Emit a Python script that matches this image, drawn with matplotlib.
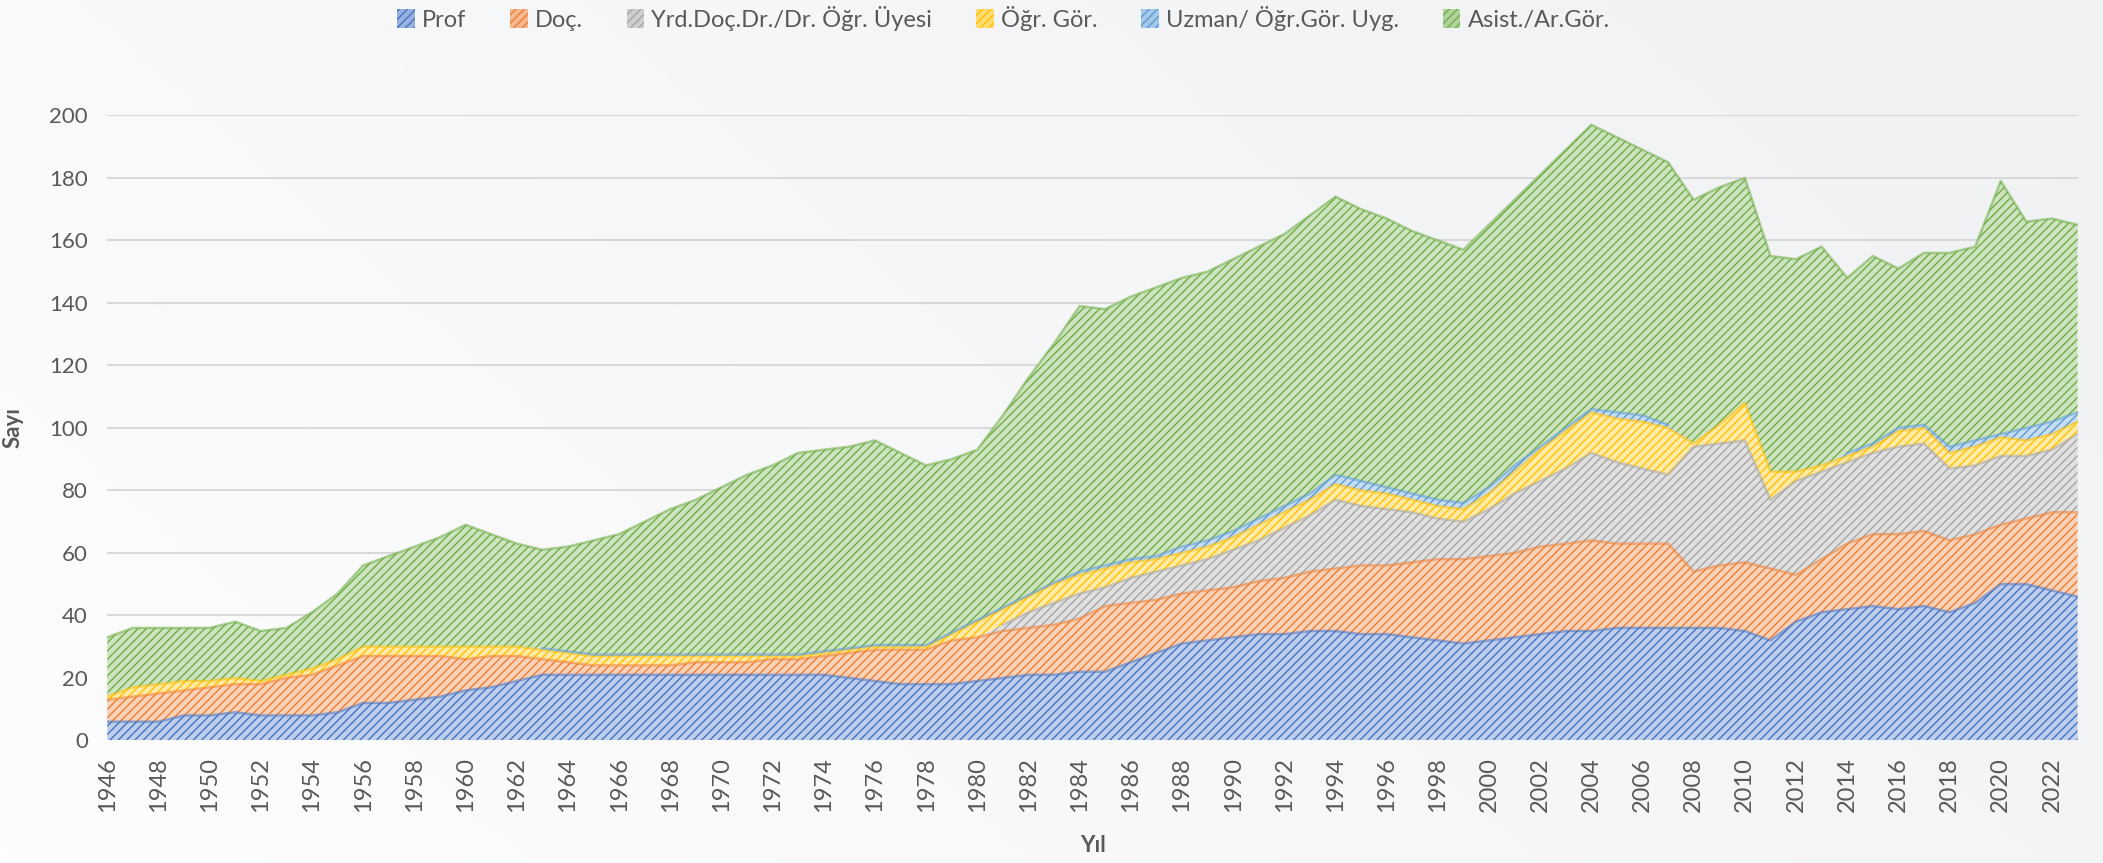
import numpy as np
import matplotlib
matplotlib.use("Agg")
import matplotlib.pyplot as plt
import matplotlib.colors as mcolors
from matplotlib.patches import Patch

# ---------------- data ----------------
years = list(range(1946, 2024))

prof = [6, 6, 6, 8, 8, 9, 8, 8, 8, 9,
        12, 12, 13, 14, 16, 17, 19, 21, 21, 21,
        21, 21, 21, 21, 21, 21, 21, 21, 21, 20,
        19, 18, 18, 18, 19, 20, 21, 21, 22, 22,
        25, 28, 31, 32, 33, 34, 34, 35, 35, 34,
        34, 33, 32, 31, 32, 33, 34, 35, 35, 36,
        36, 36, 36, 36, 35, 32, 38, 41, 42, 43,
        42, 43, 41, 44, 50, 50, 48, 46]

doc = [7, 8, 9, 8, 9, 9, 10, 12, 13, 15,
       15, 15, 14, 13, 10, 10, 8, 5, 4, 3,
       3, 3, 3, 4, 4, 4, 5, 5, 6, 8,
       10, 11, 11, 14, 14, 15, 15, 16, 17, 21,
       19, 17, 16, 16, 16, 17, 18, 19, 20, 22,
       22, 24, 26, 27, 27, 27, 28, 28, 29, 27,
       27, 27, 18, 20, 22, 23, 15, 17, 21, 23,
       24, 24, 23, 22, 19, 21, 25, 27]

yrd = [0, 0, 0, 0, 0, 0, 0, 0, 0, 0,
       0, 0, 0, 0, 0, 0, 0, 0, 0, 0,
       0, 0, 0, 0, 0, 0, 0, 0, 0, 0,
       0, 0, 0, 0, 0, 2, 5, 7, 8, 6,
       8, 9, 9, 10, 12, 13, 16, 18, 22, 19,
       18, 16, 13, 12, 15, 19, 21, 24, 28, 26,
       24, 22, 40, 39, 39, 22, 30, 28, 26, 26,
       28, 28, 23, 22, 22, 20, 20, 25]

ogr = [1, 3, 3, 3, 2, 2, 1, 1, 2, 2,
       3, 3, 3, 3, 4, 3, 3, 3, 3, 3,
       3, 3, 3, 2, 2, 2, 1, 1, 1, 1,
       1, 1, 1, 2, 5, 5, 5, 6, 6, 6,
       5, 4, 4, 4, 4, 5, 5, 5, 5, 5,
       5, 4, 4, 4, 5, 7, 10, 12, 13, 14,
       15, 15, 1, 6, 12, 9, 3, 2, 2, 2,
       5, 5, 5, 6, 6, 5, 5, 4]

uzman = [0, 0, 0, 0, 0, 0, 0, 0, 0, 0,
         0, 0, 0, 0, 0, 0, 0, 0.5, 0.5, 0.5,
         0.5, 0.5, 0.5, 0.5, 0.5, 0.5, 0.5, 0.5, 0.5, 0.5,
         0.5, 0.5, 0.5, 0.5, 0.5, 0.5, 0.5, 0.5, 1, 1,
         1, 1, 2, 2, 2, 2, 2, 2, 3, 3,
         2, 2, 2, 2, 2, 2, 1, 1, 1, 2,
         2, 1, 0, 0, 0, 0, 0, 0, 1, 1,
         1, 1, 2, 2, 1, 4, 4, 3]

asist = [19, 19, 18, 17, 17, 18, 16, 15, 18, 21,
         26, 29, 32, 35, 39, 36, 33, 31.5, 33.5, 36.5,
         38.5, 42.5, 46.5, 49.5, 53.5, 57.5, 60.5, 64.5, 64.5, 64.5,
         65.5, 61.5, 57.5, 55.5, 54.5, 61.5, 69.5, 76.5, 85, 82,
         84, 86, 86, 86, 87, 87, 87, 89, 89, 87,
         86, 84, 83, 81, 84, 85, 87, 89, 91, 88,
         85, 84, 78, 76, 72, 69, 68, 70, 56, 60,
         51, 55, 62, 62, 81, 66, 65, 60]

labels = ["Prof", "Doç.", "Yrd.Doç.Dr./Dr. Öğr. Üyesi", "Öğr. Gör.",
          "Uzman/ Öğr.Gör. Uyg.", "Asist./Ar.Gör."]
colors = ["#4472C4", "#ED7D31", "#A5A5A5", "#FFC000", "#5B9BD5", "#70AD47"]
tick_years = list(range(1946, 2023, 2))
y_ticks = list(range(0, 201, 20))

# ---------------- style ----------------
plt.rcParams['font.family'] = ['Lato', 'DejaVu Sans']
plt.rcParams['hatch.linewidth'] = 1.0
text_col = "#595959"


def tint(c, f):
    r, g, b = mcolors.to_rgb(c)
    return (r + (1 - r) * f, g + (1 - g) * f, b + (1 - b) * f)


W, H = 2103, 863
fig = plt.figure(figsize=(W / 100, H / 100), dpi=100)

# subtle background gradient
bg = fig.add_axes([0, 0, 1, 1], zorder=-10)
gx = np.linspace(0, 1, 400)
gy = np.linspace(0, 1, 200)
GX, GY = np.meshgrid(gx, gy)
grad = 0.55 * GX + 0.25 * (1 - GY)
bg_cmap = mcolors.LinearSegmentedColormap.from_list("bg", ["#fdfdfd", "#eceef0"])
bg.imshow(grad, aspect='auto', cmap=bg_cmap, extent=[0, 1, 0, 1], vmin=0, vmax=1)
bg.axis('off')

left, right = 107.3, 2077.5
top_px, base_px = 115.4, 740.4
ax = fig.add_axes([left / W, 1 - base_px / H, (right - left) / W, (base_px - top_px) / H])
ax.set_facecolor('none')

series = [prof, doc, yrd, ogr, uzman, asist]
data = np.array(series, dtype=float)
cum = np.cumsum(data, axis=0)
x = np.array(years)
bottom = np.zeros(len(years))
for vals, top, col in zip(data, cum, colors):
    ax.fill_between(x, bottom, top, facecolor=tint(col, 0.66), edgecolor=col,
                    hatch='////', linewidth=0, zorder=2)
    line_top = np.where(vals > 0, top, np.nan)
    ax.plot(x, line_top, color=col, lw=1.8, alpha=0.55, zorder=3)
    bottom = top

ax.set_xlim(1946, 2023)
ax.set_ylim(0, 200)
ax.set_yticks(y_ticks)
ax.set_xticks(tick_years)
ax.set_xticklabels([str(t) for t in tick_years], rotation=90)
ax.yaxis.grid(True, color="#d9d9d9", lw=1.5, zorder=0)
ax.set_axisbelow(True)
for s in ax.spines.values():
    s.set_visible(False)
ax.tick_params(axis='both', length=0, colors=text_col, labelsize=16)
ax.tick_params(axis='y', pad=14)
ax.tick_params(axis='x', pad=12, labelsize=17)

ax.set_ylabel("Sayı", fontsize=16, fontweight='bold', color=text_col)
ax.yaxis.set_label_coords(-0.0423, 0.5)
ax.set_xlabel("Yıl", fontsize=16, fontweight='bold', color=text_col)
ax.xaxis.set_label_coords(0.5003, -0.152)

handles = [Patch(facecolor=tint(c, 0.45), edgecolor=c, hatch='////', linewidth=0)
           for c in colors]
leg = fig.legend(handles, labels, loc='upper center', bbox_to_anchor=(1003.5 / W, 1.018),
                 ncol=6, frameon=False, fontsize=17, handlelength=0.75, handleheight=0.8,
                 handletextpad=0.3, columnspacing=1.85, labelcolor=text_col)

fig.savefig("out.png", dpi=100)
